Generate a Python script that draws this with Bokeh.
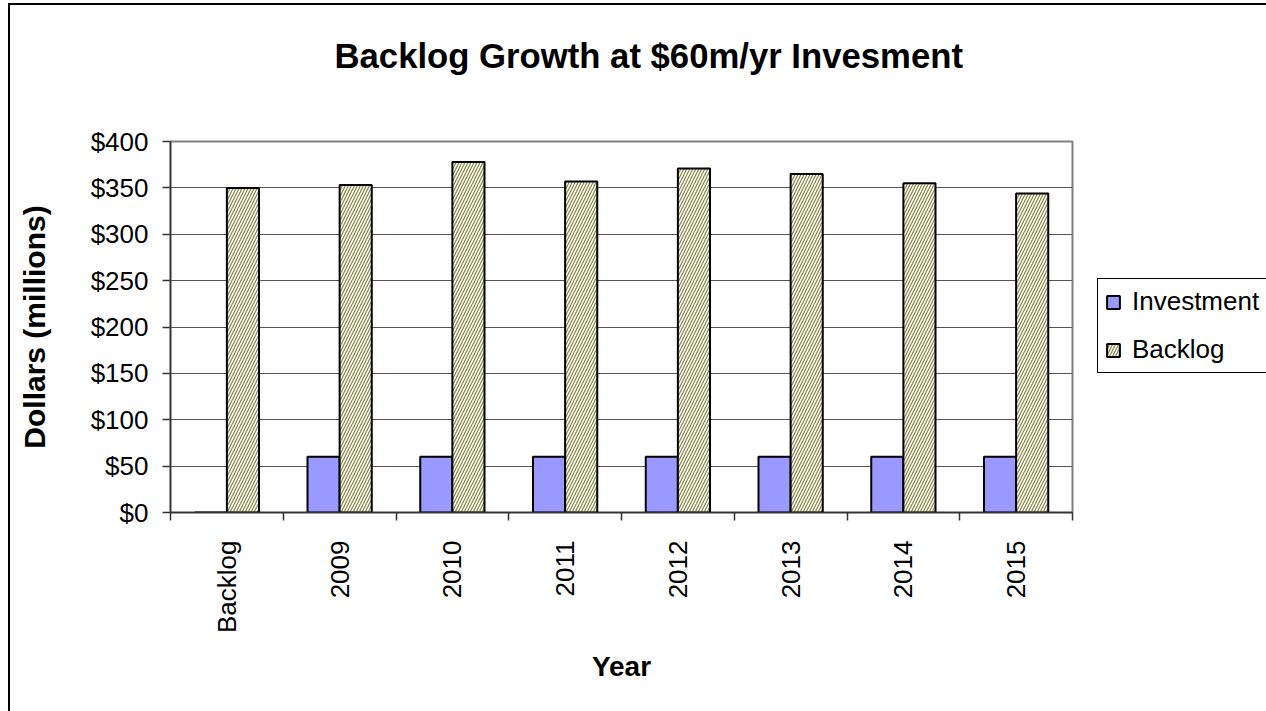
import numpy as np
from bokeh.plotting import figure
from bokeh.models import (Range1d, FixedTicker, PrintfTickFormatter, Legend,
                          LegendItem, ColumnDataSource, Title)
from bokeh.transform import dodge
from bokeh.embed import file_html
from bokeh.resources import INLINE

categories = ["Backlog", "2009", "2010", "2011", "2012", "2013", "2014", "2015"]
investment = [0, 60, 60, 60, 60, 60, 60, 60]
backlog = [350, 353, 378, 357, 371, 365, 355, 344]
y_ticks = [0, 50, 100, 150, 200, 250, 300, 350, 400]
title_text = "Backlog Growth at $60m/yr Invesment"

FONT = "Liberation Sans"
xpos = [i + 0.5 for i in range(len(categories))]
source = ColumnDataSource(dict(x=xpos, cat=categories, inv=investment, back=backlog))

p = figure(width=1256, height=706, frame_width=902, frame_height=371,
           x_range=Range1d(0, len(categories)), y_range=Range1d(0, 400),
           output_backend="svg", toolbar_location=None, title=None,
           min_border_left=160, min_border_right=194,
           min_border_top=136, min_border_bottom=199,
           styles={"margin-left": "8px", "margin-top": "3px",
                   "border-left": "2px solid black", "border-top": "2px solid black"})

bw = 0.285
r_inv = p.vbar(x=dodge("x", -bw / 2, range=p.x_range), top="inv", width=bw, source=source,
               fill_color="#9999FF", line_color="black", line_width=2)
r_back = p.vbar(x=dodge("x", bw / 2, range=p.x_range), top="back", width=bw, source=source,
                fill_color="#FFFFCC", line_color="black", line_width=2,
                hatch_pattern="/", hatch_color="#808080", hatch_scale=6, hatch_weight=1.2)

# spacer between frame and title, then the title itself
p.add_layout(Title(text=" ", text_font_size="10px", standoff=54), "above")
p.add_layout(Title(text=title_text, text_font=FONT, text_font_size="34.7px",
                   text_font_style="bold", text_color="black",
                   align="left", offset=164, standoff=0), "above")

# outline / grid
p.outline_line_color = "#808080"
p.outline_line_width = 2
p.xgrid.visible = False
p.ygrid.grid_line_color = "#555555"
p.ygrid.grid_line_width = 1

# x axis
xa = p.xaxis[0]
xa.ticker = FixedTicker(ticks=xpos, minor_ticks=list(range(len(categories) + 1)))
xa.major_label_overrides = {x: c for x, c in zip(xpos, categories)}
xa.major_label_orientation = np.pi / 2
xa.major_tick_line_color = None
xa.major_tick_in = 0
xa.major_tick_out = 0
xa.minor_tick_in = 0
xa.minor_tick_out = 8
xa.minor_tick_line_color = "#333333"
xa.minor_tick_line_width = 1.5
xa.axis_line_color = "#333333"
xa.axis_line_width = 1.5
xa.major_label_text_font = FONT
xa.major_label_text_font_size = "26px"
xa.major_label_text_color = "black"
xa.major_label_standoff = 20
xa.axis_label = "Year"
xa.axis_label_text_font = FONT
xa.axis_label_text_font_size = "28px"
xa.axis_label_text_font_style = "bold"
xa.axis_label_text_color = "black"
xa.axis_label_standoff = 15

# y axis
ya = p.yaxis[0]
ya.ticker = FixedTicker(ticks=y_ticks)
ya.formatter = PrintfTickFormatter(format="$%d")
ya.minor_tick_line_color = None
ya.major_tick_in = 0
ya.major_tick_out = 8
ya.major_tick_line_color = "#333333"
ya.major_tick_line_width = 1.5
ya.axis_line_color = "#333333"
ya.axis_line_width = 1.5
ya.major_label_text_font = FONT
ya.major_label_text_font_size = "26px"
ya.major_label_text_color = "black"
ya.major_label_standoff = 14
ya.axis_label = "Dollars (millions)"
ya.axis_label_text_font = FONT
ya.axis_label_text_font_size = "30px"
ya.axis_label_text_font_style = "bold"
ya.axis_label_text_color = "black"
ya.axis_label_standoff = 37

legend = Legend(items=[LegendItem(label="Investment", renderers=[r_inv]),
                       LegendItem(label="Backlog", renderers=[r_back])],
                location=(25, 139), margin=0, padding=7, spacing=17,
                glyph_width=16, glyph_height=16, label_standoff=11, label_height=30,
                label_text_font=FONT, label_text_font_size="26px",
                label_text_color="black",
                border_line_color="black", border_line_width=1, border_line_alpha=1,
                background_fill_color="white", background_fill_alpha=1)
p.add_layout(legend, "right")

open("out.html", "w").write(file_html(p, INLINE))
